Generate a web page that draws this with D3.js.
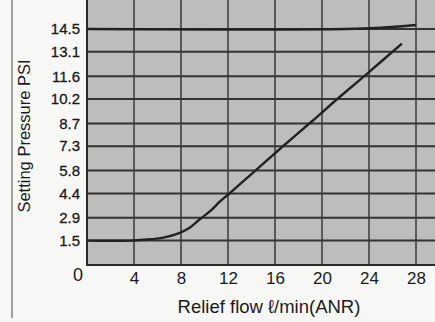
<!DOCTYPE html>
<html>
<head>
<meta charset="utf-8">
<script src="https://cdn.jsdelivr.net/npm/d3@7"></script>
<style>
  body { margin: 0; background: #f7f7f5; }
  svg { display: block; font-family: "Liberation Sans", Arial, sans-serif; }
</style>
</head>
<body>
<script>
// tick labels as printed on the chart
var yTicks = [1.5, 2.9, 4.4, 5.8, 7.3, 8.7, 10.2, 11.6, 13.1, 14.5];
var xTicks = [4, 8, 12, 16, 20, 24, 28];

// lower curve (relief flow vs setting pressure)
var flowA = [0, 3.7, 5.4, 6.5, 7.9, 8.8, 9.6, 10.5, 11.3, 12.2, 14.4, 16.6, 19.1, 21.3, 23.75, 26.8];
var psiA  = [1.5, 1.5, 1.58, 1.68, 1.98, 2.32, 2.81, 3.32, 3.89, 4.44, 5.85, 7.25, 8.8, 10.2, 11.7, 13.6];

// upper curve
var flowB = [0, 22, 25, 28];
var psiB  = [14.5, 14.5, 14.58, 14.75];

var W = 435, H = 322;
var left = 87, bottom = 265, right = 435;

var x = d3.scaleLinear().domain([0, 28]).range([left, 416]);
var y = d3.scaleLinear().domain([0, 14.5]).range([bottom, 29]);

var svg = d3.select("body").append("svg")
  .attr("width", W)
  .attr("height", H);

// scan frame line on the left
svg.append("line")
  .attr("x1", 12).attr("x2", 12)
  .attr("y1", 0).attr("y2", 318)
  .style("stroke", "#666").style("stroke-width", 1.2);

// plot background
svg.append("rect")
  .attr("x", left).attr("y", 0)
  .attr("width", right - left).attr("height", bottom)
  .style("fill", "#bdbdbb");

// horizontal grid
svg.selectAll(".hgrid")
  .data(yTicks)
  .enter().append("line")
  .attr("class", "hgrid")
  .attr("x1", left).attr("x2", right)
  .attr("y1", function (d) { return y(d); })
  .attr("y2", function (d) { return y(d); })
  .style("stroke", "#333").style("stroke-width", 2);

// vertical grid
svg.selectAll(".vgrid")
  .data(xTicks)
  .enter().append("line")
  .attr("class", "vgrid")
  .attr("x1", function (d) { return x(d); })
  .attr("x2", function (d) { return x(d); })
  .attr("y1", 0).attr("y2", bottom)
  .style("stroke", "#3a3a3a").style("stroke-width", 1.5);

// plot borders
svg.append("line")
  .attr("x1", left).attr("x2", left).attr("y1", 0).attr("y2", bottom + 1)
  .style("stroke", "#2a2a2a").style("stroke-width", 2);
svg.append("line")
  .attr("x1", left).attr("x2", right).attr("y1", bottom).attr("y2", bottom)
  .style("stroke", "#2a2a2a").style("stroke-width", 2);

var line = d3.line()
  .x(function (d) { return x(d[0]); })
  .y(function (d) { return y(d[1]); })
  .curve(d3.curveCatmullRom.alpha(0.5));

svg.append("path")
  .datum(d3.zip(flowB, psiB))
  .attr("d", line)
  .style("fill", "none").style("stroke", "#222").style("stroke-width", 2.6);

svg.append("path")
  .datum(d3.zip(flowA, psiA))
  .attr("d", line)
  .style("fill", "none").style("stroke", "#222").style("stroke-width", 2.4);

// y axis labels
var yAxis = svg.append("g")
  .attr("transform", "translate(" + left + ",0)")
  .call(d3.axisLeft(y).tickValues(yTicks).tickSize(0).tickPadding(7)
    .tickFormat(d3.format(".1f")));
yAxis.select(".domain").remove();
yAxis.selectAll("text")
  .style("font-size", "15px").style("fill", "#1a1a1a")
  .style("stroke", "#1a1a1a").style("stroke-width", 0.3)
  .style("font-family", "'Liberation Sans', Arial, sans-serif");

// x axis labels
var xAxis = svg.append("g")
  .attr("transform", "translate(0," + bottom + ")")
  .call(d3.axisBottom(x).tickValues(xTicks).tickSize(0).tickPadding(7));
xAxis.select(".domain").remove();
xAxis.selectAll("text")
  .style("font-size", "17px").style("fill", "#1a1a1a")
  .style("font-family", "'Liberation Sans', Arial, sans-serif");

// origin label
svg.append("text")
  .attr("x", 78).attr("y", 281)
  .attr("text-anchor", "middle")
  .style("font-size", "18px").style("fill", "#1a1a1a")
  .text("0");

// axis titles
svg.append("text")
  .attr("x", 269).attr("y", 313)
  .attr("text-anchor", "middle")
  .style("font-size", "18.5px").style("fill", "#1a1a1a")
  .text("Relief flow ℓ/min(ANR)");

svg.append("text")
  .attr("transform", "translate(30,136) rotate(-90)")
  .attr("text-anchor", "middle")
  .style("font-size", "16.5px").style("fill", "#1a1a1a")
  .text("Setting Pressure PSI");
</script>
</body>
</html>
